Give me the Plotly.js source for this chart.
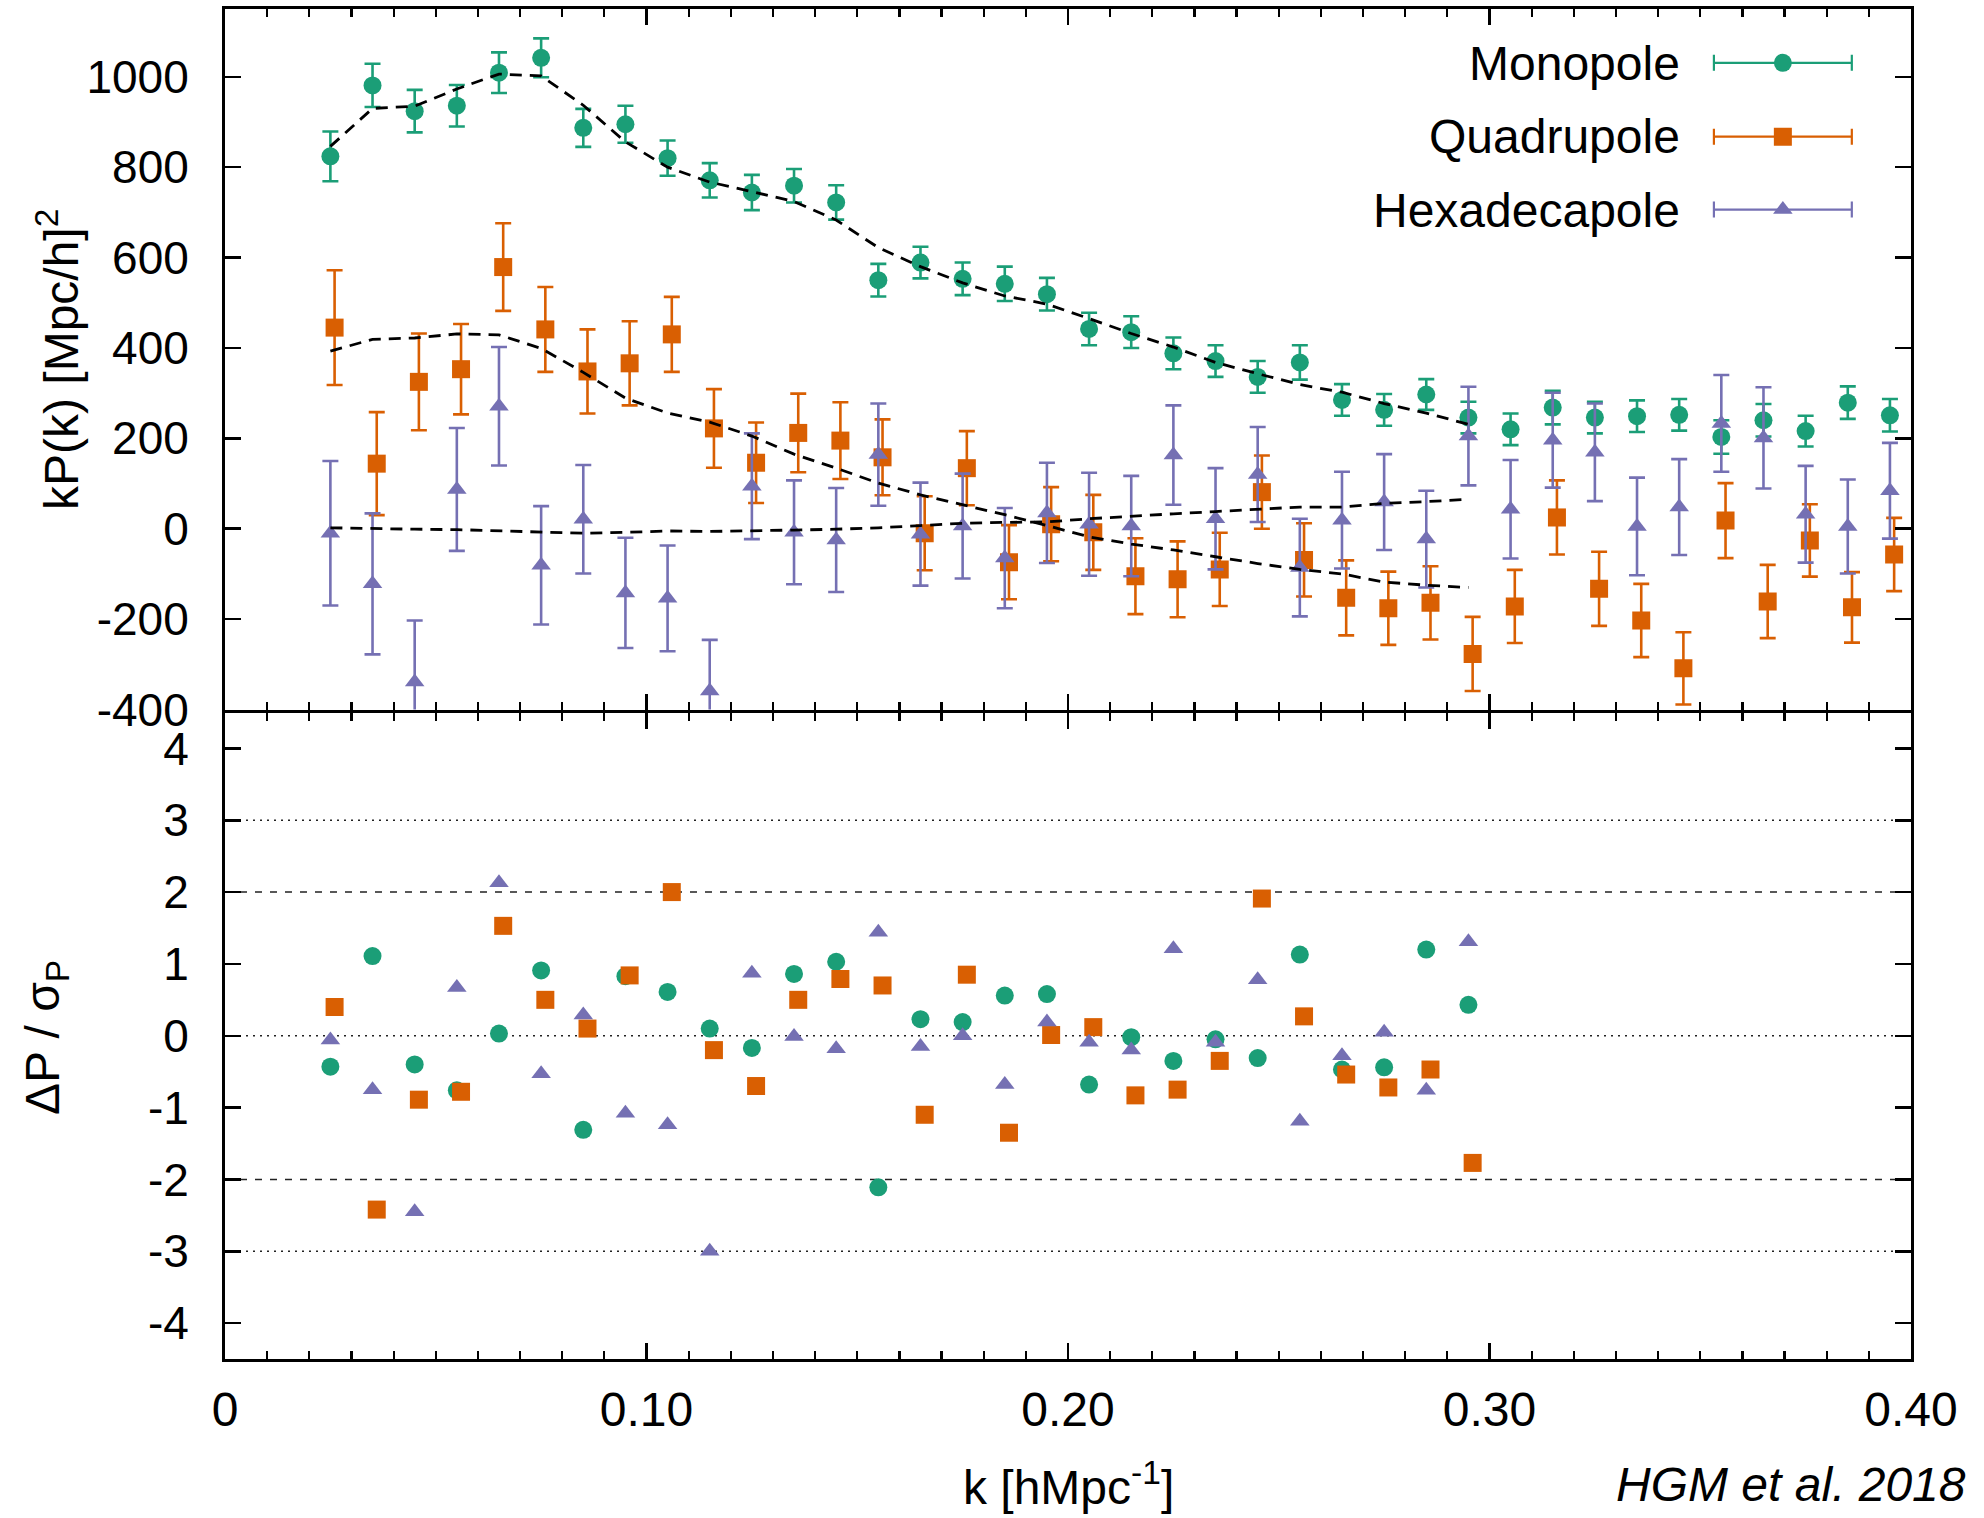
<!DOCTYPE html>
<html>
<head>
<meta charset="utf-8">
<script src="https://cdn.plot.ly/plotly-3.0.1.min.js"></script>
<style>html,body{margin:0;padding:0;background:#fff;}#chart{width:1984px;height:1518px;}</style>
</head>
<body>
<div id="chart"></div>
<script>
// ---------- data ----------
const kMono = [0.025,0.035,0.045,0.055,0.065,0.075,0.085,0.095,0.105,0.115,0.125,0.135,0.145,0.155,0.165,0.175,0.185,0.195,0.205,0.215,0.225,0.235,0.245,0.255,0.265,0.275,0.285,0.295,0.305,0.315,0.325,0.335,0.345,0.355,0.365,0.375,0.385,0.395];
const kQuad = [0.026,0.036,0.046,0.056,0.066,0.076,0.086,0.096,0.106,0.116,0.126,0.136,0.146,0.156,0.166,0.176,0.186,0.196,0.206,0.216,0.226,0.236,0.246,0.256,0.266,0.276,0.286,0.296,0.306,0.316,0.326,0.336,0.346,0.356,0.366,0.376,0.386,0.396];
const kHexa = [0.025,0.035,0.045,0.055,0.065,0.075,0.085,0.095,0.105,0.115,0.125,0.135,0.145,0.155,0.165,0.175,0.185,0.195,0.205,0.215,0.225,0.235,0.245,0.255,0.265,0.275,0.285,0.295,0.305,0.315,0.325,0.335,0.345,0.355,0.365,0.375,0.385,0.395];

const monoP   = [824,981,924,936,1009,1042,887,895,820,771,744,759,722,550,589,553,542,519,442,435,388,371,336,368,285,263,297,246,220,268,246,249,252,203,240,216,279,251];
const monoErr = [55,48,47,46,45,43,42,41,39,38,39,37,38,36,35,36,38,36,36,35,35,35,35,38,35,35,34,35,35,37,35,35,35,37,36,34,36,36];
const quadP   = [445,144,325,353,579,441,348,366,430,222,146,212,195,158,-10,134,-74,10,-8,-105,-112,-90,81,-69,-153,-176,-164,-277,-172,25,-133,-203,-309,18,-161,-26,-174,-57];
const quadErr = [127,114,107,100,97,94,93,93,83,87,89,87,85,84,82,82,82,82,83,84,84,81,81,81,83,81,81,82,81,82,82,81,80,83,81,80,78,81];
const hexaP   = [-10,-122,-339,87,271,-81,21,-142,-154,-359,94,-8,-25,164,-12,6,-65,35,10,6,163,22,120,-86,19,59,-23,205,43,196,169,5,48,233,201,32,5,84];
const hexaErr = [160,156,136,136,131,131,120,122,117,113,117,115,115,113,114,116,111,111,114,111,110,112,105,108,107,106,107,109,109,105,108,108,106,107,112,107,104,106];

// model curves (dashed)
const kModel    = [0.025,0.035,0.045,0.055,0.065,0.075,0.085,0.095,0.105,0.115,0.125,0.135,0.145,0.155,0.165,0.175,0.185,0.195,0.205,0.215,0.225,0.235,0.245,0.255,0.265,0.275,0.285,0.295];
const monoModel = [846,930,935,973,1006,1002,937,856,800,767,746,724,683,622,580,544,515,497,465,432,402,368,343,319,302,277,256,231];
const quadModel = [393,419,422,431,429,399,346,289,256,236,205,165,134,101,75,53,31,7,-18,-34,-47,-62,-77,-90,-100,-118,-125,-130];
const hexaModel = [2,0,-1,-2,-5,-8,-10,-8,-5,-6,-5,-3,-1,2,7,12,14,15,22,28,33,38,43,48,48,56,60,65];

// residuals  ΔP / σP
const kResMono = [0.025,0.035,0.045,0.055,0.065,0.075,0.085,0.095,0.105,0.115,0.125,0.135,0.145,0.155,0.165,0.175,0.185,0.195,0.205,0.215,0.225,0.235,0.245,0.255,0.265,0.275,0.285,0.295];
const kResQuad = [0.026,0.036,0.046,0.056,0.066,0.076,0.086,0.096,0.106,0.116,0.126,0.136,0.146,0.156,0.166,0.176,0.186,0.196,0.206,0.216,0.226,0.236,0.246,0.256,0.266,0.276,0.286,0.296];
const monoRes = [-0.43,1.11,-0.40,-0.76,0.03,0.91,-1.31,0.83,0.61,0.10,-0.17,0.86,1.03,-2.11,0.23,0.19,0.56,0.58,-0.68,-0.02,-0.35,-0.05,-0.31,1.13,-0.47,-0.44,1.20,0.43];
const quadRes = [0.40,-2.42,-0.89,-0.78,1.53,0.50,0.10,0.84,2.00,-0.20,-0.70,0.50,0.79,0.70,-1.10,0.85,-1.35,0.01,0.12,-0.83,-0.75,-0.35,1.91,0.27,-0.54,-0.72,-0.47,-1.77];
const hexaRes = [-0.06,-0.75,-2.45,0.67,2.13,-0.53,0.29,-1.08,-1.24,-3.00,0.87,-0.01,-0.18,1.44,-0.15,0.00,-0.68,0.19,-0.09,-0.20,1.21,-0.09,0.78,-1.19,-0.28,0.05,-0.76,1.31];

// tick labels
const yTopVals = [-400,-200,0,200,400,600,800,1000];
const yTopText = ['-400','-200','0','200','400','600','800','1000'];
const yBotVals = [-4,-3,-2,-1,0,1,2,3,4];
const yBotText = ['-4','-3','-2','-1','0','1','2','3','4'];
const xTickVals = [0,0.1,0.2,0.3,0.4];
const xTickText = ['0','0.10','0.20','0.30','0.40'];

const seriesNames = ['Monopole','Quadrupole','Hexadecapole'];
// ---------- styles ----------
const FONT = 'Liberation Sans, Arial, Helvetica, sans-serif';
const colors = ['#1b9e77','#d95f02','#7570b3'];
const symbols = ['circle','square','triangle-up'];
const msize = [18,18,17];

function dataTrace(x, y, err, i) {
  return {x:x, y:y, xaxis:'x', yaxis:'y', type:'scatter', mode:'markers',
    marker:{color:colors[i], symbol:symbols[i], size:msize[i], line:{width:0}},
    error_y:{type:'data', array:err, visible:true, color:colors[i], thickness:2.6, width:8},
    showlegend:false, hoverinfo:'skip'};
}
function modelTrace(x, y) {
  return {x:x, y:y, xaxis:'x', yaxis:'y', type:'scatter', mode:'lines',
    line:{color:'#000', width:2.8, dash:'12px,8px'}, showlegend:false, hoverinfo:'skip'};
}
function resTrace(x, y, i) {
  return {x:x, y:y, xaxis:'x2', yaxis:'y2', type:'scatter', mode:'markers',
    marker:{color:colors[i], symbol:symbols[i], size:msize[i], line:{width:0}},
    showlegend:false, hoverinfo:'skip'};
}
// legend samples (drawn on an overlay axis 0..1)
const legRowsAxis = [0.9231, 0.8177, 0.7137];
const legRowsPaper = [0.960, 0.9052, 0.8511];
function legendSample(i) {
  return {x:[0.924], y:[legRowsAxis[i]], xaxis:'x3', yaxis:'y3', type:'scatter', mode:'markers',
    marker:{color:colors[i], symbol:symbols[i], size:msize[i], line:{width:0}},
    error_x:{type:'constant', value:0.0409, visible:true, color:colors[i], thickness:2.2, width:8},
    showlegend:false, hoverinfo:'skip'};
}

const traces = [
  dataTrace(kMono, monoP, monoErr, 0),
  dataTrace(kQuad, quadP, quadErr, 1),
  dataTrace(kHexa, hexaP, hexaErr, 2),
  modelTrace(kModel, monoModel),
  modelTrace(kModel, quadModel),
  modelTrace(kModel, hexaModel),
  resTrace(kResMono, monoRes, 0),
  resTrace(kResQuad, quadRes, 1),
  resTrace(kResMono, hexaRes, 2),
  legendSample(0), legendSample(1), legendSample(2)
];

const axisCommon = {
  showline:true, linecolor:'#000', linewidth:3, mirror:'allticks',
  ticks:'inside', ticklen:16, tickwidth:2.5, tickcolor:'#000',
  showgrid:false, zeroline:false, fixedrange:true
};
const xMinor = {dtick:0.01, tick0:0, ticks:'inside', ticklen:8, tickwidth:2.2, tickcolor:'#000', showgrid:false};

const refLines = [
  {y:3, dash:'2px,5px'}, {y:-3, dash:'2px,5px'},
  {y:2, dash:'7px,8px'}, {y:-2, dash:'7px,8px'},
  {y:0, dash:'2px,5px'}
];
const shapes = refLines.map(r => ({type:'line', xref:'x2 domain', x0:0, x1:1, yref:'y2', y0:r.y, y1:r.y,
  line:{color:'#222', width:1.5, dash:r.dash}, layer:'below'}));

const annotations = [
  {text:'kP(k) [Mpc/h]<sup>2</sup>', xref:'paper', yref:'paper', x:0, xshift:-167, y:0.74, textangle:-90,
   xanchor:'center', yanchor:'middle', showarrow:false, font:{family:FONT, size:48, color:'#000'}},
  {text:'ΔP / σ<sub>P</sub>', xref:'paper', yref:'paper', x:0, xshift:-179, y:0.2378, textangle:-90,
   xanchor:'center', yanchor:'middle', showarrow:false, font:{family:FONT, size:48, color:'#000'}},
  {text:'k [hMpc<sup>-1</sup>]', xref:'paper', yref:'paper', x:0.5, y:-0.0926,
   xanchor:'center', yanchor:'middle', showarrow:false, font:{family:FONT, size:48, color:'#000'}},
  {text:'<i>HGM et al. 2018</i>', xref:'paper', yref:'paper', x:1.0338, y:-0.0926,
   xanchor:'right', yanchor:'middle', showarrow:false, font:{family:FONT, size:48, color:'#000'}}
];
seriesNames.forEach((n, i) => annotations.push({
  text:n, xref:'paper', yref:'paper', x:0.8642, y:legRowsPaper[i], xanchor:'right', yanchor:'middle',
  showarrow:false, font:{family:FONT, size:48, color:'#000'}
}));

// the two panels share one border line: offset domains by half a line width each
const half = 1.5 / 1350;
const layout = {
  width:1984, height:1518,
  margin:{l:225, r:73, t:9, b:159, pad:0},
  paper_bgcolor:'#fff', plot_bgcolor:'#fff',
  font:{family:FONT, color:'#000'},
  showlegend:false,
  xaxis: Object.assign({}, axisCommon, {domain:[0,1], anchor:'y', range:[0,0.4],
    tickmode:'array', tickvals:xTickVals, ticktext:xTickText, showticklabels:false, minor:xMinor}),
  yaxis: Object.assign({}, axisCommon, {domain:[0.48 + half,1], anchor:'x', range:[-400,1150],
    tickmode:'array', tickvals:yTopVals, ticktext:yTopText, ticklabelstandoff:24,
    tickfont:{family:FONT, size:46, color:'#000'}}),
  xaxis2: Object.assign({}, axisCommon, {domain:[0,1], anchor:'y2', range:[0,0.4],
    tickmode:'array', tickvals:xTickVals, ticktext:xTickText, ticklabelstandoff:6,
    tickfont:{family:FONT, size:48, color:'#000'}, minor:xMinor}),
  yaxis2: Object.assign({}, axisCommon, {domain:[0,0.48 - half], anchor:'x2', range:[-4.5,4.5],
    tickmode:'array', tickvals:yBotVals, ticktext:yBotText, ticklabelstandoff:24,
    tickfont:{family:FONT, size:46, color:'#000'}}),
  xaxis3: {overlaying:'x', anchor:'y3', range:[0,1], visible:false, fixedrange:true},
  yaxis3: {overlaying:'y', anchor:'x3', range:[0,1], visible:false, fixedrange:true},
  shapes: shapes,
  annotations: annotations
};

Plotly.newPlot('chart', traces, layout, {staticPlot:true, displayModeBar:false});
</script>
</body>
</html>
